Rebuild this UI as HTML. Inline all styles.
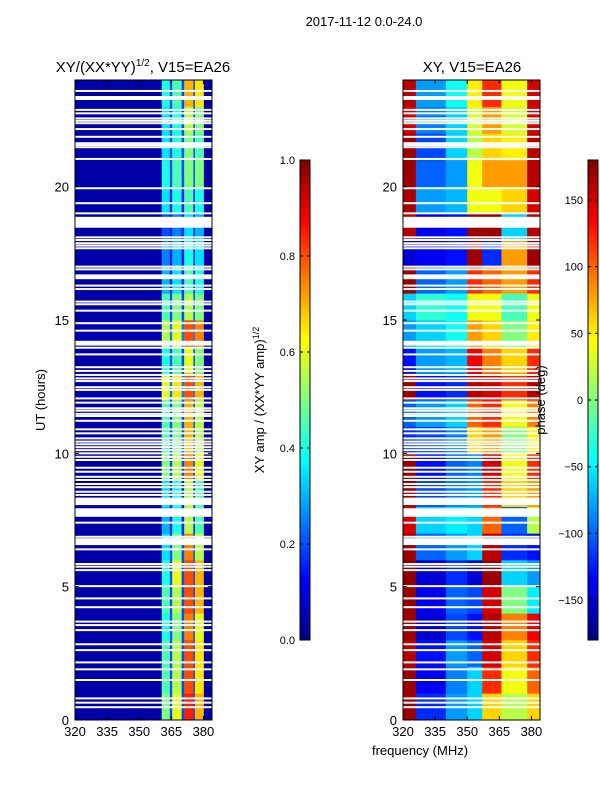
<!DOCTYPE html>
<html><head><meta charset="utf-8">
<style>
body{margin:0;background:#fff;}
svg{display:block;font-family:"Liberation Sans",sans-serif;}
</style></head>
<body>
<svg id="fig" width="600" height="800" viewBox="0 0 600 800" xmlns="http://www.w3.org/2000/svg">
<text x="364" y="26" font-size="13" text-anchor="middle">2017-11-12 0.0-24.0</text>
<text x="143" y="72" font-size="15" text-anchor="middle">XY/(XX*YY)<tspan font-size="10" dy="-6">1/2</tspan><tspan dy="6">, V15=EA26</tspan></text>
<text x="472" y="72" font-size="15" text-anchor="middle">XY, V15=EA26</text>
<g id="left"></g>
<g id="right"></g>
<g id="axes"></g>
<text x="45" y="400" font-size="13" text-anchor="middle" transform="rotate(-90 45 400)">UT (hours)</text>
<text x="420" y="755" font-size="13" text-anchor="middle">frequency (MHz)</text>
<text x="264" y="400" font-size="13" text-anchor="middle" transform="rotate(-90 264 400)">XY amp / (XX*YY amp)<tspan font-size="9" dy="-5">1/2</tspan></text>
<text x="545" y="400" font-size="13" text-anchor="middle" transform="rotate(-90 545 400)">phase (deg)</text>
</svg>
<script>
// ---- data ----
const hours = [0,1,2,3,4,5,6,7,8,9,10,11,12,13,14,15,16,17,18,19,20,21,22,23];
const ampBandFreqs = [[320,360.5],[360.5,364.3],[364.3,365.4],[365.4,369.8],[369.8,371],[371,375.3],[375.3,376],[376,380.2],[380.2,384]];
const ampBg = [0.04,0.04,0.04,0.04,0.04,0.04,0.04,0.04,0.04,0.04,0.04,0.04,0.05,0.04,0.05,0.04,0.04,0.04,0.04,0.04,0.04,0.04,0.04,0.04];
const ampA = [0.5,0.45,0.45,0.4,0.45,0.4,0.35,0.3,0.35,0.5,0.45,0.45,0.6,0.4,0.55,0.45,0.3,0.25,0.2,0.35,0.4,0.35,0.35,0.4];
const ampB = [0.6,0.55,0.55,0.5,0.55,0.6,0.5,0.4,0.4,0.55,0.5,0.5,0.65,0.45,0.6,0.5,0.35,0.3,0.25,0.4,0.45,0.4,0.4,0.45];
const ampC = [0.85,0.8,0.8,0.75,0.8,0.8,0.75,0.55,0.55,0.75,0.7,0.7,0.8,0.6,0.8,0.55,0.45,0.4,0.35,0.45,0.5,0.5,0.55,0.7];
const ampD = [0.7,0.65,0.65,0.6,0.7,0.7,0.55,0.45,0.45,0.6,0.55,0.55,0.7,0.5,0.75,0.5,0.4,0.35,0.3,0.4,0.5,0.45,0.5,0.65];
const ampGap = [0.2,0.2,0.2,0.2,0.2,0.2,0.2,0.15,0.15,0.2,0.2,0.2,0.25,0.2,0.25,0.2,0.15,0.15,0.15,0.15,0.2,0.2,0.2,0.2];
const phaseBandFreqs = [[320,326],[326,340],[340,350],[350,357],[357,366],[366,378],[378,384]];
const phP1 = [170,170,160,170,170,175,170,150,170,170,-120,-100,170,-130,-80,-60,170,-150,160,165,170,170,150,160];
const phP2 = [-120,-140,-130,-150,-140,-150,-100,-60,-110,-130,-110,-80,-130,-80,-60,-30,-100,-140,-140,-80,-100,-110,-90,-80];
const phP3 = [-80,-90,-80,-110,-100,-120,-80,-50,-90,-100,-90,-60,-120,-70,-40,-40,-80,-130,-130,-70,-80,-60,-60,-40];
const phP4 = [-60,-60,-100,-130,-110,-150,-60,-60,-80,-90,60,100,160,140,80,40,120,170,170,40,40,20,30,50];
const phP5 = [60,120,150,160,150,170,160,100,120,150,80,120,150,90,60,40,100,-120,170,40,80,60,80,120];
const phP6 = [20,40,60,90,0,-60,-120,-100,60,40,0,40,120,60,0,-20,80,80,-60,60,80,50,30,40];
const phP7 = [60,100,120,140,-50,-80,-130,20,80,120,50,90,160,120,50,40,120,170,160,150,160,160,150,150];
const flagHours = [23.59,22.88,22.75,22.56,22.47,22.38,22.16,21.87,21.63,21.56,21.48,21.04,19.94,19.38,19.0,18.1,18.0,17.88,17.79,17.69,17.0,16.9,16.29,16.16,15.69,15.59,15.35,14.88,14.6,13.96,13.71,13.23,13.09,12.94,12.81,12.71,12.48,12.38,12.06,11.9,11.69,11.6,11.48,11.4,11.22,10.9,10.75,10.56,10.44,10.34,10.23,10.12,10.0,9.87,9.75,9.46,9.31,9.12,9.0,8.85,8.73,8.56,8.44,7.4,6.87,6.78,6.4,5.85,5.75,5.62,5.02,4.56,4.23,3.69,3.56,3.37,2.84,2.62,2.16,1.9,1.5,0.81,0.65,0.48];
const flagSpans = [[23.25,23.4],[18.46,18.87],[16.53,16.71],[14.04,14.22],[8.06,8.34],[7.62,7.94],[6.56,6.75]];
const xTicks = [320,335,350,365,380];
const yTicks = [0,5,10,15,20];
const ampCbTicks = [0.0,0.2,0.4,0.6,0.8,1.0];
const phCbTicks = [-150,-100,-50,0,50,100,150];

// ---- helpers ----
const NS='http://www.w3.org/2000/svg';
function jet(v){v=Math.max(0,Math.min(1,v));
 const r=Math.max(0,Math.min(1,1.5-Math.abs(4*v-3)));
 const g=Math.max(0,Math.min(1,1.5-Math.abs(4*v-2)));
 const b=Math.max(0,Math.min(1,1.5-Math.abs(4*v-1)));
 return `rgb(${Math.round(r*255)},${Math.round(g*255)},${Math.round(b*255)})`;}
const Y0=720,Y1=80;
function yS(h){return Y0-(h/24)*(Y0-Y1);}
function xS(x0,f){return x0+(f-320)*137/64;}
function rect(parent,x,y,w,h,fill){const r=document.createElementNS(NS,'rect');
 r.setAttribute('x',x);r.setAttribute('y',y);r.setAttribute('width',w);r.setAttribute('height',h);r.setAttribute('fill',fill);parent.appendChild(r);return r;}
function txt(parent,x,y,s,anchor,size){const t=document.createElementNS(NS,'text');
 t.setAttribute('x',x);t.setAttribute('y',y);t.setAttribute('font-size',size||13);t.setAttribute('text-anchor',anchor);t.textContent=s;parent.appendChild(t);return t;}
function line(parent,x1,y1,x2,y2){const l=document.createElementNS(NS,'line');
 l.setAttribute('x1',x1);l.setAttribute('y1',y1);l.setAttribute('x2',x2);l.setAttribute('y2',y2);l.setAttribute('stroke','#000');l.setAttribute('stroke-width',1);parent.appendChild(l);return l;}

const L=document.getElementById('left'), R=document.getElementById('right'), A=document.getElementById('axes');
const ampSeries=[ampBg,ampA,ampGap,ampB,ampGap,ampC,ampGap,ampD,ampBg];
const phSeries=[phP1,phP2,phP3,phP4,phP5,phP6,phP7];
hours.forEach((h,i)=>{
 const y=yS(h+1), hh=yS(h)-yS(h+1);
 ampBandFreqs.forEach((b,j)=>{
  const c=rect(L,xS(75,b[0]),y,xS(75,b[1])-xS(75,b[0])+0.3,hh+0.3,jet(ampSeries[j][i]));
  
  
 });
 phaseBandFreqs.forEach((b,j)=>{
  const c=rect(R,xS(403,b[0]),y,xS(403,b[1])-xS(403,b[0])+0.3,hh+0.3,jet((phSeries[j][i]+180)/360));
  
  
 });
});
// flags
[[75,L],[403,R]].forEach(([x0,g])=>{
 flagHours.forEach(h=>{const f=rect(g,x0,yS(h)-1,137,2,'#fff');
  
  });
 flagSpans.forEach(s=>{const f=rect(g,x0,yS(s[1]),137,yS(s[0])-yS(s[1]),'#fff');
  
  });
});
// axes frames & ticks
[75,403].forEach(x0=>{
 const fr=rect(A,x0,80,137,640,'none');fr.setAttribute('stroke','#000');
 
 
 xTicks.forEach(t=>{const x=xS(x0,t);line(A,x,720,x,716);line(A,x,80,x,84);
  const tl=txt(A,x,736,String(t),'middle');
  
  });
 yTicks.forEach(t=>{const y=yS(t);line(A,x0,y,x0+4,y);line(A,x0+137,y,x0+133,y);
  const tl=txt(A,x0-6,y+5,String(t),'end');
  
  });
});
// colorbars
function colorbar(x,ticks,toV,fmt,name){
 const g=document.createElementNS(NS,'g');
 
 
 A.appendChild(g);
 for(let k=0;k<120;k++){rect(g,x,640-(k+1)*4,10,4.3,jet((k+0.5)/120));}
 const fr=rect(g,x,160,10,480,'none');fr.setAttribute('stroke','#000');
 ticks.forEach(t=>{const y=640-toV(t)*480;line(g,x,y,x+3,y);line(g,x+10,y,x+7,y);
  txt(g,x-5,y+4,fmt(t),'end',11);});
}
colorbar(300,ampCbTicks,v=>v,v=>v.toFixed(1),'amp-colorbar');
colorbar(588,phCbTicks,v=>(v+180)/360,v=>(v<0?'\u2212'+(-v):String(v)),'phase-colorbar');
</script>
</body></html>
